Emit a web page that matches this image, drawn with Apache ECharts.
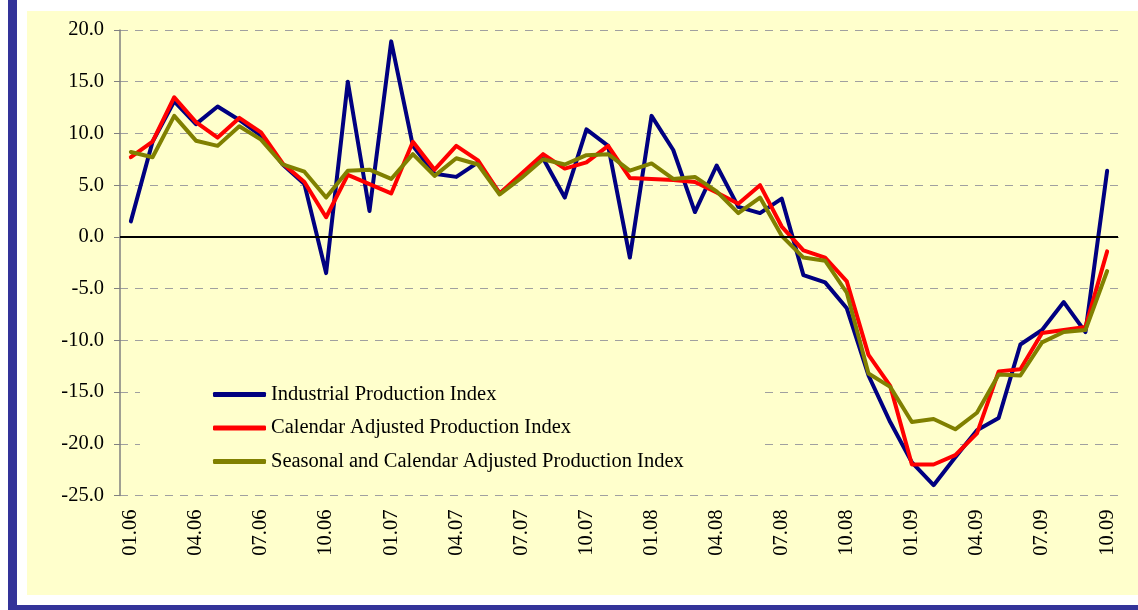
<!DOCTYPE html>
<html><head><meta charset="utf-8">
<script src="https://cdn.jsdelivr.net/npm/echarts@6/dist/echarts.min.js"></script>
<style>
html,body{margin:0;padding:0;background:#fff;}
#wrap{position:relative;width:1138px;height:610px;overflow:hidden;}
.bl{position:absolute;background:#333399;}
#panel{position:absolute;left:27px;top:11px;width:1111px;height:584px;background:#FFFFCC;}
#chart{position:absolute;left:0;top:0;width:1138px;height:610px;}
</style></head><body>
<div id="wrap">
<div class="bl" style="left:8px;top:0;width:9px;height:610px"></div>
<div class="bl" style="left:8px;top:605px;width:1130px;height:5px"></div>
<div id="panel"></div>
<div id="chart"></div>
</div>
<script>
const categories = ['01.06','02.06','03.06','04.06','05.06','06.06','07.06','08.06','09.06','10.06','11.06','12.06',
  '01.07','02.07','03.07','04.07','05.07','06.07','07.07','08.07','09.07','10.07','11.07','12.07',
  '01.08','02.08','03.08','04.08','05.08','06.08','07.08','08.08','09.08','10.08','11.08','12.08',
  '01.09','02.09','03.09','04.09','05.09','06.09','07.09','08.09','09.09','10.09'];
const industrial = [1.5, 9.2, 13.1, 10.9, 12.6, 11.3, 9.8, 7.0, 5.1, -3.5, 15.0, 2.5,
  18.9, 8.8, 6.1, 5.8, 7.2, 4.2, 5.9, 7.6, 3.8, 10.4, 8.8, -2.0,
  11.7, 8.4, 2.4, 6.9, 2.9, 2.3, 3.7, -3.7, -4.4, -6.9, -13.4, -17.9,
  -21.8, -24.0, -21.3, -18.7, -17.5, -10.4, -9.0, -6.3, -9.2, 6.4];
const calendarAdj = [7.7, 9.2, 13.5, 11.1, 9.6, 11.5, 10.1, 7.1, 5.3, 1.9, 6.0, 5.1,
  4.2, 9.2, 6.5, 8.8, 7.4, 4.2, 6.1, 8.0, 6.6, 7.2, 8.8, 5.7,
  5.6, 5.5, 5.3, 4.3, 3.2, 5.0, 1.0, -1.3, -2.0, -4.3, -11.4, -14.4,
  -22.0, -22.0, -21.1, -19.0, -13.0, -12.8, -9.3, -9.0, -8.7, -1.4];
const seasonalAdj = [8.2, 7.7, 11.7, 9.3, 8.8, 10.7, 9.4, 7.0, 6.3, 3.8, 6.4, 6.5,
  5.6, 8.0, 5.9, 7.6, 7.0, 4.1, 5.7, 7.5, 7.0, 7.9, 8.0, 6.4,
  7.1, 5.6, 5.8, 4.4, 2.3, 3.8, 0.1, -2.0, -2.3, -5.4, -13.2, -14.5,
  -17.9, -17.6, -18.6, -17.0, -13.3, -13.4, -10.2, -9.2, -9.0, -3.3];
const seriesNames = ['Industrial Production Index','Calendar Adjusted Production Index','Seasonal and Calendar Adjusted Production Index'];
const seriesColors = ['#000080','#FF0000','#808000'];

const FONT = 'Liberation Serif';
const chart = echarts.init(document.getElementById('chart'), null, {renderer:'canvas'});
const dataSets = [industrial, calendarAdj, seasonalAdj];
const series = dataSets.map((d, i) => ({
  name: seriesNames[i], type: 'line', data: d, symbol: 'none', smooth: false,
  lineStyle: {color: seriesColors[i], width: 4, join: 'round', cap: 'round'},
  itemStyle: {color: seriesColors[i]},
  emphasis: {disabled: true},
  markLine: i === 0 ? {silent: true, symbol: 'none', label: {show: false},
    lineStyle: {color: '#000', width: 2, type: 'solid'}, data: [{yAxis: 0}]} : undefined
}));
chart.setOption({
  animation: false,
  backgroundColor: 'transparent',
  grid: {left: 120, right: 20, top: 30, bottom: 114.5, containLabel: false},
  legend: {
    orient: 'vertical', left: 140, top: 375,
    itemWidth: 53, itemHeight: 5, itemGap: 12.5, icon: 'roundRect',
    padding: [9, 80, 9, 73], backgroundColor: '#FFFFCC',
    textStyle: {fontFamily: FONT, fontSize: 20.5, color: '#000', lineHeight: 21},
    data: seriesNames
  },
  xAxis: {
    type: 'category', data: categories, boundaryGap: true,
    axisLine: {lineStyle: {color: '#000', width: 1}},
    axisTick: {interval: 2, length: 6, lineStyle: {color: '#000'}},
    axisLabel: {interval: 2, rotate: 90, margin: 14, fontFamily: FONT, fontSize: 20.5, color: '#000'},
    splitLine: {show: false}
  },
  yAxis: {
    type: 'value', min: -25, max: 20, interval: 5,
    axisLine: {show: true, lineStyle: {color: '#808080', width: 1.5}},
    axisTick: {show: true, length: 6, lineStyle: {color: '#808080'}},
    axisLabel: {formatter: v => v.toFixed(1), margin: 16, fontFamily: FONT, fontSize: 20.5, color: '#000'},
    splitLine: {show: true, lineStyle: {color: '#a0a0a0', type: [8, 7], width: 1}}
  },
  series: series
});
</script>
</body></html>
